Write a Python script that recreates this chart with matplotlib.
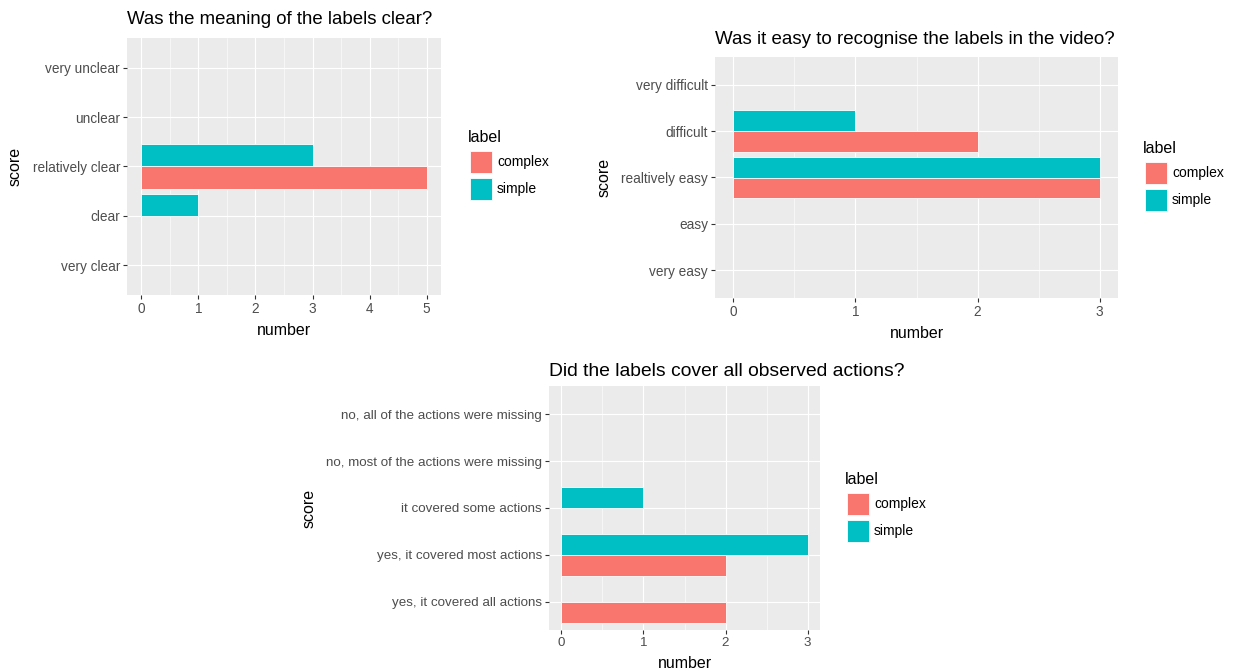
import matplotlib
matplotlib.use("Agg")
import numpy as np
import matplotlib.pyplot as plt
from matplotlib.patches import Rectangle

plt.rcParams['font.family'] = ['Liberation Sans', 'DejaVu Sans']

# survey answers, categories listed bottom -> top
cats_clear = ['very clear', 'clear', 'relatively clear', 'unclear', 'very unclear']
complex_clear = [0, 0, 5, 0, 0]
simple_clear = [0, 1, 3, 0, 0]

cats_easy = ['very easy', 'easy', 'realtively easy', 'difficult', 'very difficult']
complex_easy = [0, 0, 3, 2, 0]
simple_easy = [0, 0, 3, 1, 0]

cats_cover = ['yes, it covered all actions', 'yes, it covered most actions',
              'it covered some actions', 'no, most of the actions were missing',
              'no, all of the actions were missing']
complex_cover = [2, 2, 0, 0, 0]
simple_cover = [0, 3, 1, 0, 0]

series_names = ['complex', 'simple']
series_colors = ['#F8766D', '#00BFC4']

W, H = 1233, 671
BG = '#EBEBEB'


def px_rect(l, t, r, b):
    return [l / W, 1 - b / H, (r - l) / W, (b - t) / H]


def draw_panel(fig, rect, title, cats, vals_complex, vals_simple, xmax,
               title_pad, title_size=13.4, tick_size=9.8):
    ax = fig.add_axes(px_rect(*rect))
    ax.set_facecolor(BG)
    y = np.arange(len(cats))
    h = 0.45
    for vals, off, col in [(vals_complex, -h / 2, series_colors[0]),
                           (vals_simple, h / 2, series_colors[1])]:
        vals = np.array(vals)
        keep = vals > 0
        ax.barh(y[keep] + off, vals[keep], height=h, color=col,
                edgecolor='white', linewidth=0.6, zorder=3)
    ax.set_xlim(-0.05 * xmax, 1.05 * xmax)
    ax.set_ylim(-0.6, len(cats) - 0.4)
    ax.set_xticks(range(xmax + 1))
    ax.set_xticks(np.arange(0.5, xmax, 1.0), minor=True)
    ax.set_yticks(y)
    ax.set_yticklabels(cats)
    ax.grid(which='major', color='white', linewidth=0.85, zorder=0)
    ax.grid(which='minor', axis='x', color='white', linewidth=0.4, zorder=0)
    ax.set_axisbelow(True)
    for s in ax.spines.values():
        s.set_visible(False)
    ax.tick_params(which='major', length=3, width=0.8, color='#333333',
                   labelcolor='#4D4D4D', labelsize=tick_size, pad=2)
    ax.tick_params(which='minor', length=0)
    ax.set_xlabel('number', fontsize=11.5, labelpad=5)
    ax.set_ylabel('score', fontsize=11.5, labelpad=7)
    ax.set_title(title, loc='left', fontsize=title_size, pad=title_pad)
    return ax


def draw_legend(fig, key_left, key_top):
    ks = 22
    fig.text((key_left - 2) / W, 1 - (key_top - 9) / H, 'label',
             fontsize=11.5, ha='left', va='baseline')
    for i, (name, col) in enumerate(zip(series_names, series_colors)):
        top = key_top + i * 27
        fig.add_artist(Rectangle((key_left / W, 1 - (top + ks) / H), ks / W, ks / H,
                                 transform=fig.transFigure, facecolor=col,
                                 edgecolor='white', linewidth=0.6))
        fig.text((key_left + ks + 5) / W, 1 - (top + ks / 2) / H, name,
                 fontsize=10, ha='left', va='center')


fig = plt.figure(figsize=(W / 100, H / 100), dpi=100)

draw_panel(fig, (127, 38, 441, 295), 'Was the meaning of the labels clear?',
           cats_clear, complex_clear, simple_clear, 5, 10)
draw_legend(fig, 470, 151)

draw_panel(fig, (715, 57, 1118, 298), 'Was it easy to recognise the labels in the video?',
           cats_easy, complex_easy, simple_easy, 3, 9.6, title_size=13.5)
draw_legend(fig, 1145, 162)

draw_panel(fig, (549, 386, 820, 630), 'Did the labels cover all observed actions?',
           cats_cover, complex_cover, simple_cover, 3, 7.2, title_size=13.9,
           tick_size=9.6)
draw_legend(fig, 847, 493)

fig.savefig('out.png', dpi=100, facecolor='white')
